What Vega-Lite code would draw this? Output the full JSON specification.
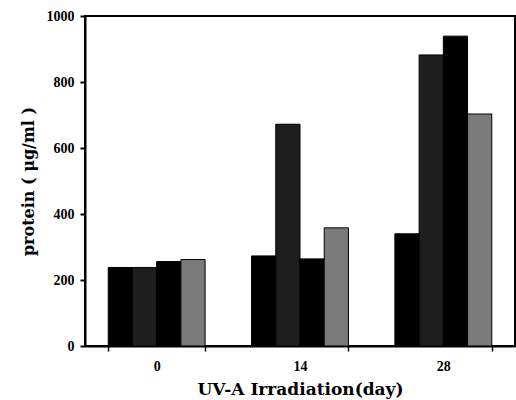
{
  "$schema": "https://vega.github.io/schema/vega-lite/v6.json",
  "width": 430,
  "height": 330,
  "autosize": {"type": "none"},
  "padding": {"left": 85, "top": 16, "right": 1, "bottom": 54},
  "background": "white",
  "data": {
    "values": [
      {"day": "0", "series": "A", "protein": 238},
      {"day": "0", "series": "B", "protein": 238},
      {"day": "0", "series": "C", "protein": 256},
      {"day": "0", "series": "D", "protein": 262},
      {"day": "14", "series": "A", "protein": 273},
      {"day": "14", "series": "B", "protein": 672},
      {"day": "14", "series": "C", "protein": 264},
      {"day": "14", "series": "D", "protein": 358},
      {"day": "28", "series": "A", "protein": 340},
      {"day": "28", "series": "B", "protein": 882},
      {"day": "28", "series": "C", "protein": 939},
      {"day": "28", "series": "D", "protein": 703}
    ]
  },
  "mark": {"type": "bar", "stroke": "black", "strokeWidth": 1},
  "encoding": {
    "x": {
      "field": "day",
      "type": "nominal",
      "sort": ["0", "14", "28"],
      "scale": {"paddingInner": 0.324, "paddingOuter": 0.162},
      "axis": {
        "title": "UV-A Irradiation(day)",
        "labelAngle": 0,
        "tickBand": "extent",
        "tickSize": 5,
        "tickWidth": 1.5,
        "labelPadding": 8,
        "titlePadding": 8,
        "titleFontSize": 17
      }
    },
    "xOffset": {
      "field": "series",
      "type": "nominal",
      "scale": {"paddingInner": 0, "paddingOuter": 0}
    },
    "y": {
      "field": "protein",
      "type": "quantitative",
      "scale": {"domain": [0, 1000], "nice": false},
      "axis": {
        "title": "protein ( μg/ml )",
        "values": [0, 200, 400, 600, 800, 1000],
        "format": "d",
        "tickSize": 5,
        "tickWidth": 2,
        "labelPadding": 6,
        "titlePadding": 10,
        "titleFontSize": 16
      }
    },
    "fill": {
      "field": "series",
      "type": "nominal",
      "scale": {"domain": ["A", "B", "C", "D"], "range": ["#000000", "#1e1e1e", "#000000", "#7a7a7a"]},
      "legend": null
    }
  },
  "config": {
    "view": {"stroke": "black", "strokeWidth": 2},
    "axis": {
      "grid": false,
      "domainColor": "black",
      "domainWidth": 2,
      "tickColor": "black",
      "labelColor": "black",
      "titleColor": "black",
      "labelFont": "Liberation Serif",
      "labelFontWeight": "bold",
      "labelFontSize": 14,
      "titleFont": "DejaVu Serif",
      "titleFontWeight": "bold"
    }
  }
}
